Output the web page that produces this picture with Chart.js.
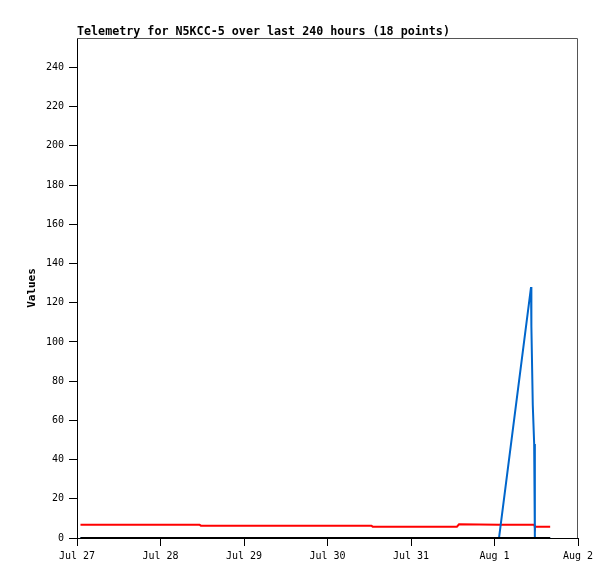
<!DOCTYPE html>
<html>
<head>
<meta charset="utf-8">
<script src="https://cdn.jsdelivr.net/npm/chart.js@4.4.1/dist/chart.umd.min.js"></script>
<style>
  body { margin: 0; background: #fff; }
  canvas { display: block; }
</style>
</head>
<body>
<canvas id="grafico" width="615" height="579"></canvas>
<script>
// hours since Jul 27 00:00
const horas = [1, 12, 24, 35.2, 35.6, 60, 84.6, 85, 97, 109.2, 109.8, 121.3, 130.5, 130.6, 131, 131.4, 131.6, 136]
const serie_vermelha = [6.8, 6.8, 6.8, 6.8, 6.3, 6.3, 6.3, 5.8, 5.8, 5.8, 7.0, 6.8, 6.8, 6.8, 6.8, 6.8, 5.8, 5.8]
const serie_azul = [0, 0, 0, 0, 0, 0, 0, 0, 0, 0, 0, 0, 128, 108, 68, 48, 0, 0]
const serie_preta = [0, 0, 0, 0, 0, 0, 0, 0, 0, 0, 0, 0, 0, 0, 0, 0, 0, 0]
const dias = ['Jul 27', 'Jul 28', 'Jul 29', 'Jul 30', 'Jul 31', 'Aug 1', 'Aug 2']
const titulo = 'Telemetry for N5KCC-5 over last 240 hours (18 points)'

const pontos = (vals) => horas.map((h, i) => ({ x: h, y: vals[i] }))

Chart.defaults.font.family = 'DejaVu Sans Mono'
Chart.defaults.font.size = 10
Chart.defaults.color = '#000'

// title + grey frame on top/right
const moldura = {
    id: 'moldura',
    beforeDatasetsDraw(chart) {
        const { ctx, chartArea: a } = chart
        ctx.save()
        ctx.strokeStyle = '#555'
        ctx.lineWidth = 1
        ctx.beginPath()
        ctx.moveTo(a.left, a.top + 0.5)
        ctx.lineTo(a.right - 0.5, a.top + 0.5)
        ctx.lineTo(a.right - 0.5, a.bottom)
        ctx.stroke()
        ctx.restore()
    },
    afterDraw(chart) {
        const { ctx, chartArea: a } = chart
        ctx.save()
        ctx.font = 'bold 11.7px "DejaVu Sans Mono"'
        ctx.fillStyle = '#000'
        ctx.textBaseline = 'alphabetic'
        ctx.fillText(titulo, a.left, 35)
        ctx.restore()
    }
}

const linha = (label, vals, cor) => ({
    label,
    data: pontos(vals),
    borderColor: cor,
    backgroundColor: cor,
    borderWidth: 2,
    pointRadius: 0,
    tension: 0,
    fill: false
})

const ctx = document.getElementById('grafico')

const graph = new Chart(ctx, {
    type: 'line',
    data: {
        datasets: [
            linha('preta', serie_preta, '#000000'),
            linha('azul', serie_azul, '#0066cc'),
            linha('vermelha', serie_vermelha, '#ff0000')
        ]
    },
    options: {
        responsive: false,
        animation: false,
        layout: { padding: { top: 38, right: 37, left: 0, bottom: 0 } },
        plugins: { legend: { display: false }, tooltip: { enabled: false } },
        scales: {
            x: {
                type: 'linear',
                min: 0,
                max: 144,
                afterFit: (s) => { s.height = 41 },
                grid: { drawOnChartArea: false, tickLength: 8, color: '#000' },
                border: { color: '#000' },
                ticks: {
                    stepSize: 24,
                    padding: 4,
                    maxRotation: 0,
                    callback: (v) => dias[Math.round(v / 24)]
                }
            },
            y: {
                min: 0,
                max: 255,
                afterFit: (s) => { s.width = 77 },
                grid: { drawOnChartArea: false, tickLength: 8, color: '#000' },
                border: { color: '#000' },
                ticks: { stepSize: 20, includeBounds: false, padding: 5 },
                title: {
                    display: true,
                    text: 'Values',
                    font: { size: 11, weight: 'bold' },
                    padding: { top: 26 }
                }
            }
        }
    },
    plugins: [moldura]
})
</script>
</body>
</html>
